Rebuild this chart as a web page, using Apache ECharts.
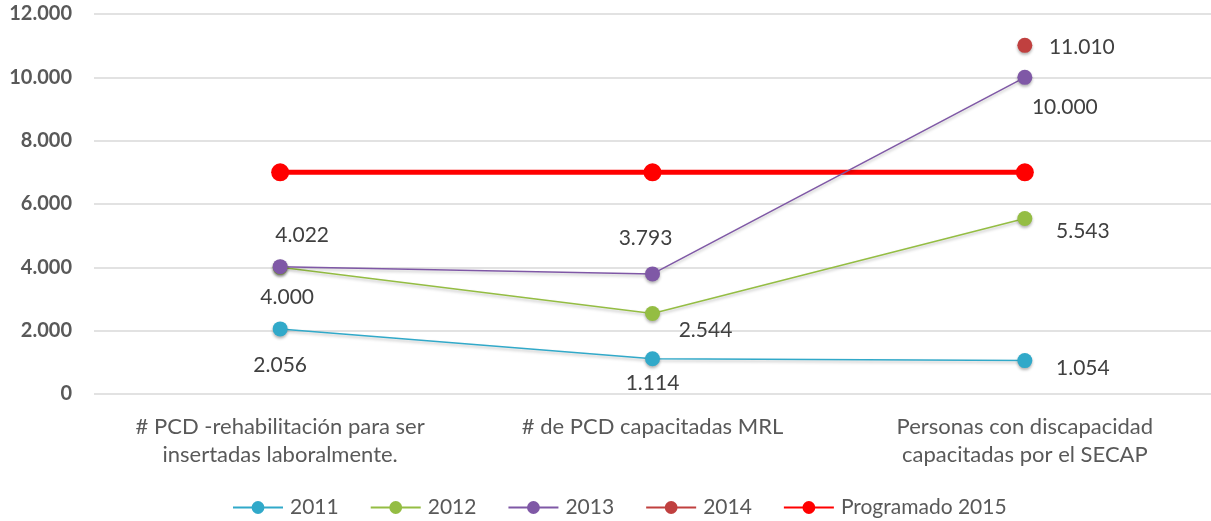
<!DOCTYPE html>
<html>
<head>
<meta charset="utf-8">
<script src="https://cdn.jsdelivr.net/npm/echarts@6/dist/echarts.min.js"></script>
<style>
  html, body { margin: 0; padding: 0; background: #fff; }
  #chart { width: 1211px; height: 521px; }
</style>
</head>
<body>
<div id="chart"></div>
<script>
// categorias
var categories = [
  '# PCD -rehabilitación para ser\ninsertadas laboralmente.',
  '# de PCD capacitadas MRL',
  'Personas con discapacidad\ncapacitadas por el SECAP'
]
var yTicks = [0, 2000, 4000, 6000, 8000, 10000, 12000]
// series
var serie2011 = [2056, 1114, 1054]
var serie2012 = [4000, 2544, 5543]
var serie2013 = [4022, 3793, 10000]
var serie2014 = [null, null, 11010]
var programado2015 = [7000, 7000, 7000]

var FONT = 'Lato'

function fmt (v) {
  return String(v).replace(/\B(?=(\d{3})+(?!\d))/g, '.')
}

// desplazamiento de cada etiqueta respecto al punto
var labelOffset = {
  '2011': [[0, 36], [0, 25], [58, 8]],
  '2012': [[7, 30], [53, 17], [58, 13]],
  '2013': [[22, -31], [-7, -36], [40, 30]],
  '2014': [null, null, [57, 2]]
}

function buildData (values, key) {
  return values.map(function (v, i) {
    var o = labelOffset[key][i]
    if (v == null || !o) return v
    return { value: v, label: { offset: o } }
  })
}

function lineSerie (name, values, color) {
  return {
    name: name,
    type: 'line',
    data: buildData(values, name),
    symbol: 'circle',
    symbolSize: 15,
    lineStyle: { color: color, width: 1.5, shadowColor: 'rgba(0,0,0,0.25)', shadowBlur: 3, shadowOffsetY: 2 },
    itemStyle: { color: color, shadowColor: 'rgba(0,0,0,0.3)', shadowBlur: 3, shadowOffsetY: 2 },
    label: {
      show: true,
      position: 'inside',
      color: '#404040',
      fontFamily: FONT,
      fontSize: 21,
      formatter: function (p) { return fmt(p.value) }
    },
    emphasis: { disabled: true },
    z: 3
  }
}

var chart = echarts.init(document.getElementById('chart'))
chart.setOption({
  animation: false,
  color: ['#31a9c9', '#94bd43', '#7f58a6', '#c0403f', '#ff0000'],
  grid: { left: 94, right: 0, top: 14, bottom: 127, containLabel: false },
  legend: {
    top: 497,
    left: 232,
    padding: 0,
    itemWidth: 50,
    itemHeight: 16,
    itemGap: 31,
    textStyle: { color: '#595959', fontFamily: FONT, fontSize: 21, padding: [0, 0, 0, 2] },
    data: ['2011', '2012', '2013', '2014', 'Programado 2015']
  },
  xAxis: {
    type: 'category',
    data: categories,
    axisLine: { show: false },
    axisTick: { show: false },
    axisLabel: {
      color: '#595959',
      fontFamily: FONT,
      fontSize: 22,
      lineHeight: 28,
      margin: 19,
      interval: 0
    }
  },
  yAxis: {
    type: 'value',
    min: yTicks[0],
    max: yTicks[yTicks.length - 1],
    interval: 2000,
    axisLine: { show: false },
    axisTick: { show: false },
    splitLine: { lineStyle: { color: '#d9d9d9', width: 1.5 } },
    axisLabel: {
      color: '#595959',
      fontFamily: FONT,
      fontSize: 20,
      fontWeight: 'bold',
      margin: 22,
      formatter: function (v) { return fmt(v) }
    }
  },
  series: [
    lineSerie('2011', serie2011, '#31a9c9'),
    lineSerie('2012', serie2012, '#94bd43'),
    lineSerie('2013', serie2013, '#7f58a6'),
    lineSerie('2014', serie2014, '#c0403f'),
    {
      name: 'Programado 2015',
      type: 'line',
      data: programado2015,
      symbol: 'circle',
      symbolSize: 18,
      lineStyle: { color: '#ff0000', width: 5 },
      itemStyle: { color: '#ff0000' },
      emphasis: { disabled: true },
      z: 2
    }
  ]
})
</script>
</body>
</html>
